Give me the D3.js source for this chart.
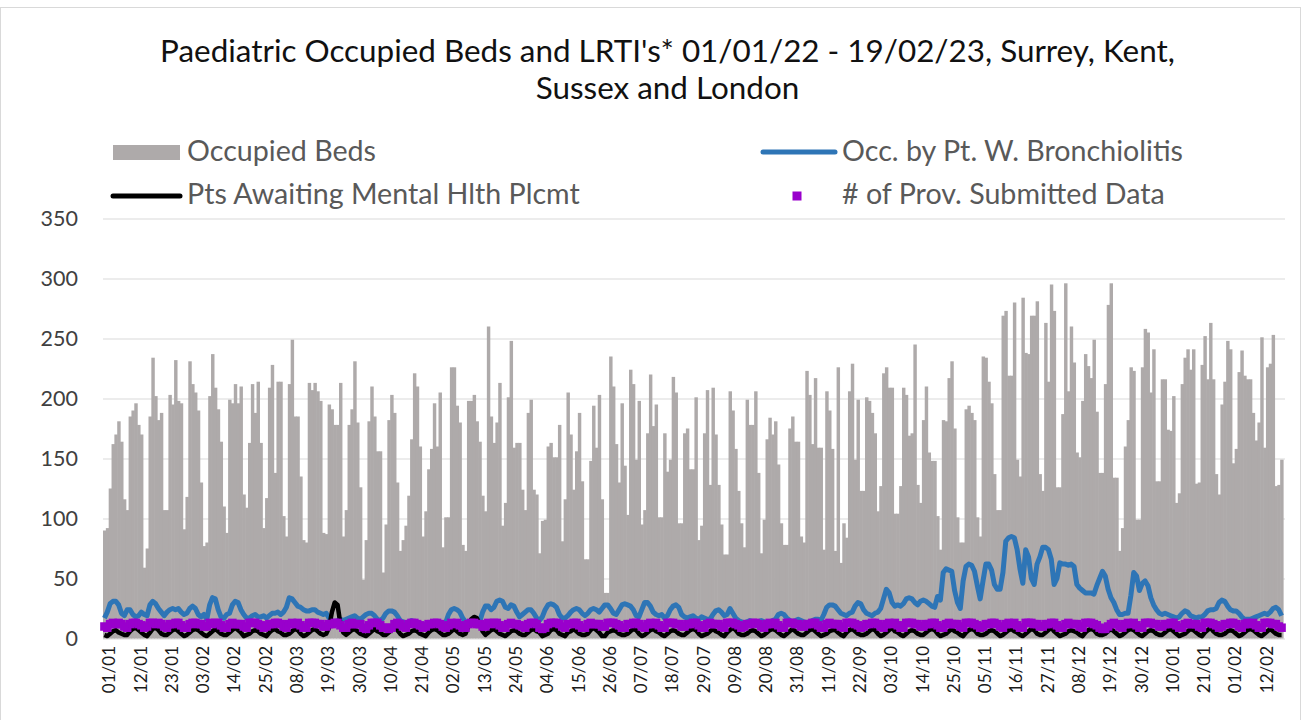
<!DOCTYPE html>
<html>
<head>
<meta charset="utf-8">
<script src="https://cdn.jsdelivr.net/npm/d3@7"></script>
<style>
  body { margin: 0; background: #fff; }
  svg { display: block; }
  text { font-family: Lato, "Open Sans", sans-serif; }
</style>
</head>
<body>
<svg id="chart" width="1302" height="720"></svg>
<script>
// daily values, 01/01/22 .. 19/02/23 (one row = one week, Sat..Fri)
var occupiedBeds = [
  90, 92, 125, 162, 170, 181, 164,
  116, 107, 185, 190, 196, 178, 170,
  59, 75, 185, 234, 202, 182, 188,
  107, 107, 203, 195, 232, 198, 196,
  91, 118, 231, 212, 205, 190, 130,
  77, 80, 202, 237, 209, 191, 164,
  110, 88, 199, 196, 212, 196, 210,
  120, 109, 163, 212, 188, 214, 163,
  92, 117, 209, 228, 138, 214, 214,
  102, 85, 212, 249, 185, 185, 135,
  82, 80, 213, 207, 213, 206, 198,
  88, 87, 195, 191, 178, 178, 213,
  85, 107, 178, 191, 231, 180, 126,
  49, 82, 181, 210, 185, 156, 156,
  55, 95, 182, 203, 188, 130, 73,
  82, 94, 119, 166, 221, 210, 160,
  85, 106, 141, 158, 196, 160, 205,
  76, 101, 101, 226, 226, 194, 180,
  78, 73, 198, 198, 203, 181, 164,
  119, 106, 260, 185, 163, 180, 213,
  94, 113, 201, 248, 159, 163, 163,
  124, 107, 188, 199, 124, 120, 71,
  98, 99, 160, 163, 151, 151, 178,
  81, 116, 205, 170, 124, 156, 188,
  131, 66, 66, 148, 194, 159, 203,
  116, 38, 38, 235, 210, 162, 130,
  196, 144, 103, 224, 212, 149, 198,
  95, 107, 171, 220, 177, 195, 101,
  101, 171, 139, 149, 218, 205, 96,
  96, 171, 175, 141, 141, 201, 82,
  94, 171, 207, 128, 209, 170, 128,
  95, 70, 70, 206, 190, 158, 123,
  96, 76, 199, 178, 178, 206, 138,
  71, 99, 166, 184, 170, 181, 145,
  96, 78, 78, 175, 185, 164, 164,
  85, 80, 223, 203, 162, 217, 159,
  159, 74, 206, 190, 158, 73, 226,
  63, 96, 84, 206, 229, 149, 199,
  123, 123, 201, 198, 188, 171, 106,
  127, 221, 226, 209, 209, 104, 104,
  127, 209, 203, 169, 171, 245, 128,
  113, 182, 210, 155, 148, 148, 102,
  74, 182, 181, 217, 231, 175, 101,
  80, 80, 191, 194, 188, 182, 101,
  85, 235, 234, 214, 196, 137, 107,
  107, 269, 273, 219, 219, 280, 149,
  135, 284, 238, 237, 269, 269, 281,
  137, 123, 263, 214, 295, 273, 126,
  126, 187, 296, 206, 260, 230, 155,
  151, 198, 237, 227, 217, 249, 189,
  138, 138, 212, 278, 296, 134, 134,
  73, 92, 160, 182, 226, 223, 99,
  99, 226, 258, 255, 205, 241, 131,
  131, 216, 216, 174, 173, 202, 113,
  121, 212, 234, 241, 224, 241, 129,
  130, 228, 252, 216, 263, 216, 137,
  120, 195, 214, 248, 241, 146, 158,
  222, 240, 219, 216, 216, 188, 165,
  180, 251, 159, 226, 229, 253, 127,
  128, 149
];

var bronchiolitis = [
  17, 22, 29, 31, 31, 28, 21, 19, 24, 24, 20, 18, 19, 22, 20, 19, 28, 31, 29, 25,
  22, 19, 22, 24, 25, 24, 25, 22, 20, 21, 25, 27, 25, 20, 18,
  20, 16, 28, 34, 33, 24, 18, 17, 20, 21, 28, 31, 30, 24, 20, 17, 17, 19, 20, 18,
  18, 19, 17, 19, 21, 21, 22, 20, 22, 26, 34, 33, 30, 27, 26, 24, 23, 23,
  24, 24, 22, 21, 20, 21, 17, 15, 14, 15, 16, 15, 16, 17, 18, 19, 17, 16, 18, 20,
  21, 21, 19, 16, 15, 17, 21, 23, 23, 22, 19, 15, 14, 13, 14, 15,
  13, 12, 12, 11, 12, 13, 12, 13, 14, 13, 12, 13, 20, 24, 25, 24, 22, 17, 14, 13,
  12, 14, 15, 14, 22, 27, 27, 24, 26, 31, 32, 31, 26, 25, 28, 27, 22,
  18, 20, 22, 24, 24, 21, 17, 15, 18, 24, 28, 29, 28, 26, 20, 17, 17, 19, 22, 24,
  25, 24, 21, 19, 21, 24, 25, 24, 22, 25, 28, 28, 25, 21, 20, 24, 28,
  29, 28, 27, 24, 19, 18, 24, 30, 30, 27, 22, 20, 19, 20, 17, 19, 24, 27, 28, 26,
  20, 18, 17, 18, 19, 17, 16, 18, 17, 16, 16, 20, 23, 24, 22, 19, 20,
  25, 21, 17, 15, 14, 13, 14, 15, 14, 13, 14, 15, 14, 13, 14, 15, 16, 20, 21, 20,
  17, 15, 14, 15, 16, 15, 14, 13, 14, 15, 16, 16, 15, 20, 26, 28, 28,
  27, 24, 21, 20, 19, 21, 22, 27, 30, 29, 24, 21, 20, 19, 21, 22, 25, 33, 41, 38,
  30, 27, 28, 27, 29, 33, 34, 33, 30, 28, 31, 32, 31, 29, 27, 26, 35,
  32, 55, 58, 57, 56, 40, 30, 25, 48, 60, 62, 61, 56, 44, 33, 48, 62, 62, 57, 45,
  41, 41, 55, 81, 84, 85, 84, 74, 58, 46, 74, 68, 50, 45, 62, 68, 76,
  76, 74, 66, 45, 50, 63, 62, 62, 61, 62, 60, 45, 42, 40, 38, 38, 38, 37, 44, 50,
  56, 52, 41, 34, 30, 24, 20, 20, 21, 21, 36, 55, 52, 40, 46, 48, 44,
  34, 28, 24, 21, 20, 21, 20, 19, 18, 17, 18, 21, 23, 22, 19, 18, 17, 18, 18, 20,
  23, 24, 24, 25, 30, 32, 31, 27, 24, 23, 23, 21, 18, 16, 16, 16, 17, 18, 19, 20,
  21, 20, 22, 25, 26, 24, 19
];

var mentalHealth = [
  3, 2, 4, 6, 7, 5, 4,  3, 3, 6, 8, 9, 7, 5,  3, 2, 5, 8, 9, 7, 4,  3, 3, 5, 7, 8, 6, 4,
  2, 3, 5, 7, 8, 7, 5,  3, 2, 4, 6, 8, 6, 4,  3, 3, 5, 7, 9, 7, 5,  2, 3, 4, 6, 7, 6, 4,
  3, 2, 5, 7, 8, 6, 5,  3, 3, 4, 6, 8, 7, 4,  2, 3, 5, 7, 8, 6, 4,
  3, 4, 9, 22, 30, 28, 12,  5, 3, 5, 7, 8, 6, 4,
  3, 2, 4, 6, 8, 6, 5,  3, 3, 5, 7, 9, 7, 4,  2, 3, 4, 6, 7, 6, 4,  3, 2, 5, 7, 8, 7, 5,
  3, 3, 4, 6, 8, 6, 4,
  3, 4, 10, 16, 18, 17, 12,  6, 3, 5, 7, 8, 6, 4,
  3, 2, 4, 6, 7, 6, 4,  3, 3, 5, 7, 8, 6, 5,  2, 3, 4, 7, 8, 7, 4,  3, 2, 5, 6, 8, 6, 4,
  3, 3, 4, 7, 9, 7, 5,  2, 2, 5, 6, 7, 6, 4,  3, 3, 4, 6, 8, 7, 4,  2, 3, 5, 7, 8, 6, 5,
  3, 2, 4, 6, 7, 6, 4,  3, 3, 5, 7, 8, 7, 4,  2, 3, 4, 6, 8, 6, 5,  3, 2, 5, 7, 9, 7, 4,
  3, 3, 4, 6, 7, 6, 4,  2, 3, 5, 7, 8, 7, 5,  3, 2, 4, 6, 8, 6, 4,  3, 3, 5, 7, 8, 6, 4,
  2, 3, 4, 6, 7, 7, 5,  3, 2, 5, 7, 8, 6, 4,  3, 3, 4, 6, 8, 7, 4,  2, 3, 5, 7, 9, 6, 5,
  3, 2, 4, 6, 7, 6, 4,  3, 3, 5, 7, 8, 7, 4,  2, 3, 4, 6, 8, 6, 5,  3, 2, 5, 7, 8, 7, 4,
  3, 3, 4, 6, 7, 6, 4,  2, 3, 5, 7, 8, 6, 5,  3, 2, 4, 6, 8, 7, 4,  3, 3, 5, 7, 9, 6, 4,
  2, 3, 4, 6, 7, 6, 5,  3, 2, 5, 7, 8, 7, 4,  3, 3, 4, 6, 8, 6, 4,  2, 3, 5, 7, 8, 7, 5,
  3, 2, 4, 6, 7, 6, 4,  3, 3, 5, 7, 8, 6, 4,  2, 3, 4, 6, 8, 7, 5,  3, 2, 5, 7, 9, 6, 4,
  3, 3, 4, 6, 7, 6, 4,  2, 3, 5, 7, 8, 7, 5,  3, 2, 4, 6, 8, 6, 4,
  3, 3
];

var providers = [
  10, 9, 12, 13, 12, 13, 12,  10, 9, 12, 13, 13, 12, 11,  9, 10, 13, 13, 12, 13, 12,
  10, 9, 12, 12, 13, 13, 11,  9, 9, 12, 13, 13, 12, 12,  10, 10, 13, 12, 13, 13, 11,
  9, 9, 12, 13, 12, 12, 12,  10, 9, 13, 13, 13, 12, 11,  9, 10, 12, 12, 13, 13, 12,
  10, 9, 12, 13, 12, 13, 11,  9, 9, 13, 13, 13, 12, 12,  10, 10, 12, 12, 13, 13, 11,
  9, 9, 12, 13, 12, 12, 12,  9, 8, 11, 13, 13, 13, 11,  9, 9, 8, 9, 12, 13, 12,
  10, 9, 12, 13, 13, 12, 11,  9, 10, 12, 12, 13, 13, 12,  10, 9, 11, 13, 12, 13, 11,
  9, 9, 12, 13, 13, 12, 12,  10, 10, 13, 12, 13, 13, 11,  9, 9, 12, 13, 12, 12, 11,
  10, 9, 12, 13, 13, 12, 9,  8, 9, 12, 13, 13, 13, 12,  10, 9, 12, 12, 13, 13, 11,
  9, 9, 12, 13, 12, 12, 12,  10, 10, 13, 13, 13, 12, 11,  9, 9, 12, 12, 13, 13, 12,
  10, 9, 12, 13, 12, 13, 11,  9, 9, 13, 13, 13, 12, 12,  10, 10, 12, 12, 13, 13, 11,
  9, 9, 12, 13, 12, 12, 12,  10, 9, 13, 13, 13, 12, 11,  9, 10, 12, 12, 13, 13, 12,
  10, 9, 12, 13, 12, 13, 11,  9, 9, 13, 13, 13, 12, 12,  10, 10, 12, 12, 13, 13, 11,
  9, 9, 12, 13, 12, 12, 12,  10, 9, 13, 13, 13, 12, 11,  9, 10, 12, 12, 13, 13, 12,
  10, 9, 12, 13, 12, 13, 11,  9, 9, 13, 13, 13, 12, 12,  10, 10, 12, 12, 13, 13, 11,
  9, 9, 12, 13, 12, 12, 12,  10, 9, 13, 13, 13, 12, 11,  9, 10, 12, 12, 13, 13, 12,
  10, 9, 12, 13, 12, 13, 11,  9, 9, 13, 13, 13, 12, 12,  10, 10, 12, 12, 13, 13, 11,
  9, 9, 12, 13, 12, 12, 12,  10, 9, 13, 13, 13, 12, 11,  9, 8, 8, 10, 12, 13, 12,
  10, 9, 12, 13, 12, 13, 11,  9, 9, 13, 13, 13, 12, 12,  10, 10, 12, 12, 13, 13, 11,
  9, 9, 12, 13, 12, 12, 12,  10, 9, 13, 13, 13, 12, 11,  9, 10, 12, 12, 13, 13, 12,
  10, 9, 12, 13, 12, 13, 11,  9, 9, 13, 13, 13, 12, 12,
  10, 9
];

var tickLabels = [
  "01/01", "12/01", "23/01", "03/02", "14/02", "25/02", "08/03", "19/03", "30/03",
  "10/04", "21/04", "02/05", "13/05", "24/05", "04/06", "15/06", "26/06", "07/07",
  "18/07", "29/07", "09/08", "20/08", "31/08", "11/09", "22/09", "03/10", "14/10",
  "25/10", "05/11", "16/11", "27/11", "08/12", "19/12", "30/12", "10/01", "21/01",
  "01/02", "12/02"
];
var tickStep = 11; // one label every 11 days

var yTicks = [0, 50, 100, 150, 200, 250, 300, 350];

var seriesNames = ["Occupied Beds", "Occ. by Pt. W. Bronchiolitis",
  "Pts Awaiting Mental Hlth Plcmt", "# of Prov. Submitted Data"];

var titleLines = ["Paediatric Occupied Beds and LRTI's* 01/01/22 - 19/02/23, Surrey, Kent,",
  "Sussex and London"];

// colours
var cBars = "#aeaaaa", cBlue = "#2e75b6", cBlack = "#000000", cPurple = "#9900cc";

var svg = d3.select("#chart");
var plot = { left: 103, right: 1283, top: 218.5, bottom: 638.5 };

// shrink/grow font so the text spans the width measured on the reference
function fit(sel, target) {
  var w = sel.node().getComputedTextLength();
  var fs = parseFloat(sel.attr("font-size"));
  sel.attr("font-size", fs * target / w);
  return fs * target / w;
}

// chart frame
svg.append("rect")
  .attr("x", 0.5).attr("y", 7.5)
  .attr("width", 1300).attr("height", 720)
  .attr("fill", "none").attr("stroke", "#d9d9d9");

var x = d3.scaleBand()
  .domain(d3.range(occupiedBeds.length))
  .range([plot.left, plot.right])
  .padding(0);
var bw = x.bandwidth();

var y = d3.scaleLinear().domain([0, 350]).range([plot.bottom, plot.top]);

// gridlines + y labels
var yAxis = svg.append("g")
  .attr("transform", "translate(" + plot.left + ",0)")
  .call(d3.axisLeft(y).tickValues(yTicks).tickSize(-(plot.right - plot.left + 2)).tickPadding(25));
yAxis.select(".domain").remove();
yAxis.selectAll(".tick line").attr("stroke", "#d9d9d9");
yAxis.selectAll(".tick text")
  .attr("fill", "#404040")
  .attr("font-size", 21.5)
  .attr("font-family", "Lato, sans-serif");

// bars
svg.append("g").selectAll("rect")
  .data(occupiedBeds)
  .enter()
  .append("rect")
  .attr("x", function (d, i) { return x(i); })
  .attr("y", function (d) { return y(d); })
  .attr("width", bw + 0.6)
  .attr("height", function (d) { return y(0) - y(d); })
  .attr("fill", cBars);

function lineOf(values) {
  return d3.line()
    .x(function (d, i) { return x(i) + bw / 2; })
    .y(function (d) { return y(d); })(values);
}

svg.append("path")
  .attr("d", lineOf(bronchiolitis))
  .attr("fill", "none")
  .attr("stroke", cBlue)
  .attr("stroke-width", 5)
  .attr("stroke-linejoin", "round");

svg.append("path")
  .attr("d", lineOf(mentalHealth))
  .attr("fill", "none")
  .attr("stroke", cBlack)
  .attr("stroke-width", 4.5)
  .attr("stroke-linejoin", "round");

var ms = 8.5;
svg.append("g").selectAll("rect")
  .data(providers)
  .enter()
  .append("rect")
  .attr("x", function (d, i) { return x(i) + bw / 2 - ms / 2; })
  .attr("y", function (d) { return y(d) - ms / 2; })
  .attr("width", ms)
  .attr("height", ms)
  .attr("fill", cPurple);

// x labels, rotated
var xl = svg.append("g");
tickLabels.forEach(function (lab, i) {
  var idx = i * tickStep;
  xl.append("text")
    .attr("transform", "translate(" + (x(idx) + bw / 2 + 5) + ",646) rotate(-90)")
    .attr("text-anchor", "end")
    .attr("dy", "0.35em")
    .attr("font-size", 17)
    .attr("fill", "#1a1a1a")
    .text(lab);
});

// title
var t1 = svg.append("text")
  .attr("x", 667.5).attr("y", 62)
  .attr("text-anchor", "middle")
  .attr("font-size", 24)
  .attr("fill", "#111")
  .text(titleLines[0]);
var tfs = fit(t1, 1015);
svg.append("text")
  .attr("x", 667.5).attr("y", 99)
  .attr("text-anchor", "middle")
  .attr("font-size", tfs)
  .attr("fill", "#111")
  .text(titleLines[1]);

// legend
var lg = svg.append("g");
lg.append("rect").attr("x", 113).attr("y", 145).attr("width", 67).attr("height", 15).attr("fill", cBars);
lg.append("line").attr("x1", 763).attr("x2", 835).attr("y1", 152).attr("y2", 152)
  .attr("stroke", cBlue).attr("stroke-width", 5).attr("stroke-linecap", "round");
lg.append("line").attr("x1", 113).attr("x2", 180).attr("y1", 196).attr("y2", 196)
  .attr("stroke", cBlack).attr("stroke-width", 5).attr("stroke-linecap", "round");
lg.append("rect").attr("x", 792.5).attr("y", 191.5).attr("width", 9).attr("height", 9).attr("fill", cPurple);

var ref = lg.append("text").attr("x", 187).attr("y", 204).attr("font-size", 22)
  .attr("fill", "#595959").text(seriesNames[2]);
var lfs = fit(ref, 393);
[[187, 161, 0], [842, 161, 1], [842, 204, 3]].forEach(function (p) {
  lg.append("text").attr("x", p[0]).attr("y", p[1]).attr("font-size", lfs)
    .attr("fill", "#595959").text(seriesNames[p[2]]);
});
</script>
</body>
</html>
